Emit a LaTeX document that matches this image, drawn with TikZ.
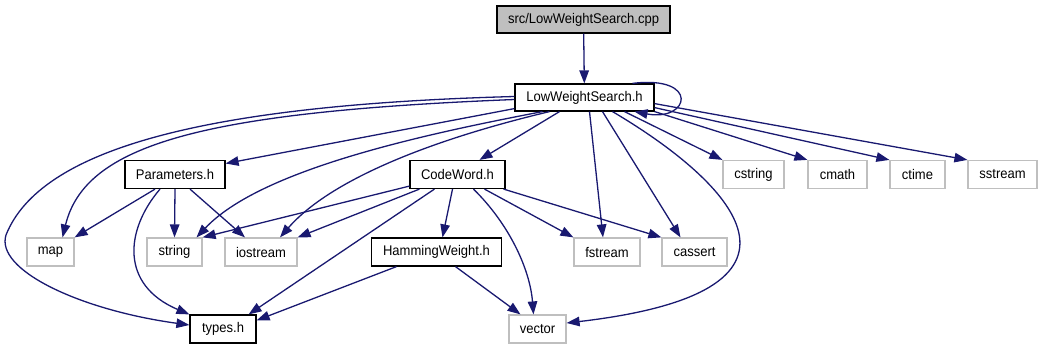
\documentclass[tikz,border=0pt]{standalone}
\usepackage{fontspec}
\setmainfont{Liberation Sans}[FakeStretch=0.93]
\usetikzlibrary{arrows.meta}
\definecolor{edgeblue}{HTML}{191970}
\definecolor{extgray}{HTML}{BFBFBF}
\begin{document}
\begin{tikzpicture}[x=1pt,y=-1pt,
  file/.style={draw=black,line width=1.2pt,minimum height=28pt,inner sep=0pt,font=\fontsize{14}{16}\selectfont},
  ext/.style={file,draw=extgray},
  dep/.style={draw=edgeblue,line width=1.3pt,-{Triangle[length=13pt,width=9.5pt]}}]
\useasboundingbox (0,0) rectangle (1043,349);
\node[file,fill=extgray,minimum width=173pt,minimum height=27pt] (cpp) at (583.5,19.5) {src/LowWeightSearch.cpp};
\node[file,minimum width=139pt,minimum height=27pt] (lws) at (584.5,97.5) {LowWeightSearch.h};
\node[file,minimum width=100pt] (params) at (175,174.5) {Parameters.h};
\node[file,minimum width=95pt] (codeword) at (457.5,174.5) {CodeWord.h};
\node[ext,minimum width=61pt] (cstring) at (753.5,174.5) {cstring};
\node[ext,minimum width=59pt] (cmath) at (837.5,174.5) {cmath};
\node[ext,minimum width=55pt] (ctime) at (917.5,174.5) {ctime};
\node[ext,minimum width=69pt] (sstream) at (1002.5,174.5) {sstream};
\node[ext,minimum width=47pt] (map) at (50.5,252) {map};
\node[ext,minimum width=55pt] (string) at (174.5,252) {string};
\node[ext,minimum width=72pt] (iostream) at (261,252) {iostream};
\node[file,minimum width=130pt] (hamming) at (436.5,252) {HammingWeight.h};
\node[ext,minimum width=66pt] (fstream) at (607,252) {fstream};
\node[ext,minimum width=65pt] (cassert) at (694.5,252) {cassert};
\node[file,minimum width=66pt] (types) at (223,329) {types.h};
\node[ext,minimum width=57pt] (vector) at (537.5,329) {vector};

\draw[dep] (cpp) -- (lws);
\draw[dep] ([xshift=48pt]lws.north) .. controls (700,75) and (690,122) .. ([xshift=50pt]lws.south);
\draw[dep] ([yshift=3pt]lws.south west) -- ([yshift=11pt]params.east);
\draw[dep] ([xshift=-25pt]lws.south) -- ([xshift=22pt]codeword.north);
\draw[dep] ([yshift=-2pt]lws.west) .. controls (200,112) and (85,145) .. ([xshift=12pt]map.north);
\draw[dep] ([yshift=1pt]lws.west) .. controls (200,105) and (40,150) .. (6,235)
  .. controls (-5,270) and (80,310) .. ([yshift=4pt]types.west);
\draw[dep] ([xshift=-42pt]lws.south) .. controls (420,135) and (260,170) .. ([xshift=22pt]string.north);
\draw[dep] ([xshift=-35pt]lws.south) .. controls (430,140) and (330,180) .. ([xshift=19pt]iostream.north);
\draw[dep] ([xshift=5pt]lws.south) -- ([xshift=-4pt]fstream.north);
\draw[dep] ([xshift=18pt]lws.south) -- ([xshift=-14pt]cassert.north);
\draw[dep] ([xshift=28pt]lws.south) .. controls (720,175) and (850,290) .. ([yshift=6pt]vector.east);
\draw[dep] ([xshift=40pt]lws.south) -- (cstring.north west);
\draw[dep] (lws.south east) -- (cmath.north west);
\draw[dep] ([yshift=4pt]lws.south east) -- (ctime.north west);
\draw[dep] ([yshift=8pt]lws.south east) -- (sstream.north west);

\draw[dep] ([xshift=-20pt]params.south) -- (map.north east);
\draw[dep] (params.south) -- (string.north);
\draw[dep] ([xshift=15pt]params.south) -- ([xshift=-16pt]iostream.north);
\draw[dep] ([xshift=-15pt]params.south) .. controls (125,230) and (120,285) .. (types.north west);

\draw[dep] ([yshift=3pt]codeword.south west) -- (string.north east);
\draw[dep] ([xshift=10pt]codeword.south west) -- (iostream.north east);
\draw[dep] ([xshift=25pt]codeword.south west) -- ([xshift=-8pt]types.north east);
\draw[dep] ([xshift=-5pt]codeword.south) -- ([xshift=6pt]hamming.north);
\draw[dep] ([xshift=16pt]codeword.south) .. controls (510,225) and (530,270) .. ([xshift=-4pt]vector.north);
\draw[dep] ([xshift=27pt]codeword.south) -- (fstream.north west);
\draw[dep] ([xshift=-2pt]codeword.south east) -- (cassert.north west);

\draw[dep] ([xshift=-40pt]hamming.south) -- ([yshift=-6pt]types.north east);
\draw[dep] ([xshift=19pt]hamming.south) -- ([xshift=-17pt]vector.north);
\end{tikzpicture}
\end{document}
